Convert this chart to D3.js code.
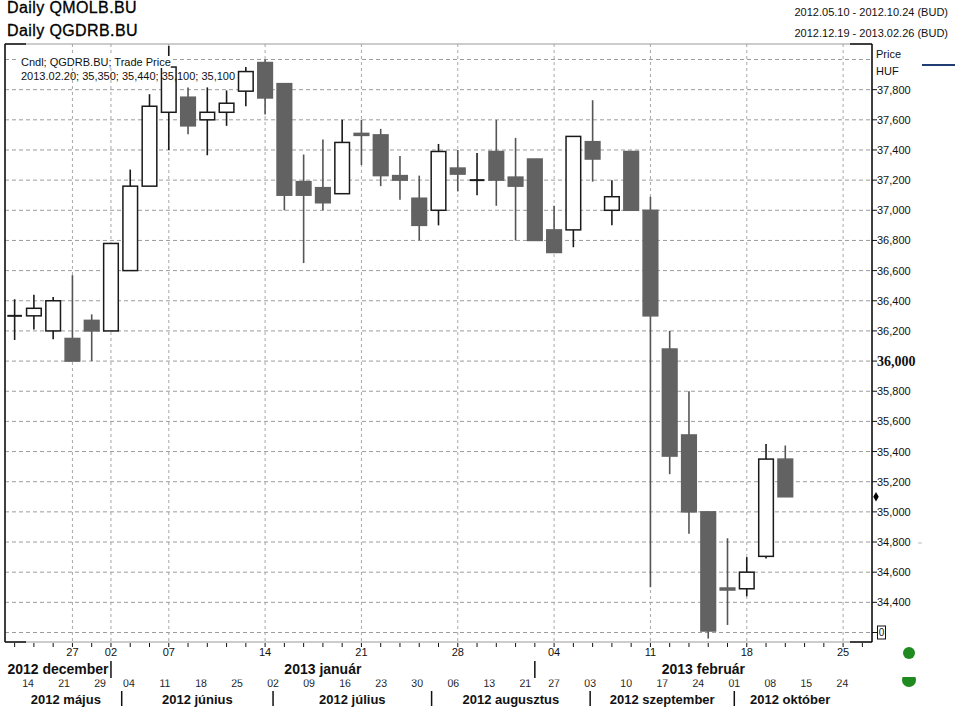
<!DOCTYPE html>
<html><head><meta charset="utf-8">
<script src="https://cdn.jsdelivr.net/npm/d3@7"></script>
<style>body{margin:0;background:#fff}svg{display:block}text{font-family:"Liberation Sans",Arial,sans-serif}</style>
</head><body>
<svg id="c" width="960" height="709"></svg>
<script>
// ---- data ----
const days = ["2012-12-19","2012-12-20","2012-12-21","2012-12-27","2012-12-28","2013-01-02","2013-01-03","2013-01-04","2013-01-07","2013-01-08","2013-01-09","2013-01-10","2013-01-11","2013-01-14","2013-01-15","2013-01-16","2013-01-17","2013-01-18","2013-01-21","2013-01-22","2013-01-23","2013-01-24","2013-01-25","2013-01-28","2013-01-29","2013-01-30","2013-01-31","2013-02-01","2013-02-04","2013-02-05","2013-02-06","2013-02-07","2013-02-08","2013-02-11","2013-02-12","2013-02-13","2013-02-14","2013-02-15","2013-02-18","2013-02-19","2013-02-20","2013-02-21","2013-02-22","2013-02-25","2013-02-26"];
const openV  = [36300,36300,36200,36150,36270,36200,36600,37160,37650,37750,37600,37650,37790,37980,37840,37190,37150,37110,37510,37500,37230,37080,37000,37280,37200,37390,37220,37340,36870,36870,37455,37000,37390,37000,36080,35510,35000,34495,34490,34705,35350];
const highV  = [36410,36440,36425,36570,36310,36780,37270,37770,38090,37815,37815,37795,37950,38000,37840,37370,37470,37600,37600,37540,37360,37230,37440,37400,37380,37600,37480,37340,37030,37490,37730,37200,37390,37090,36200,35800,35000,34825,34700,35450,35440];
const lowV   = [36140,36210,36145,36000,36000,36200,36600,37160,37400,37505,37365,37560,37690,37635,37000,36650,37000,37110,37300,37160,37070,36800,36900,37125,37100,37030,36800,36800,36720,36755,37190,36900,37000,34500,35250,34855,34160,34250,34440,34690,35100];
const closeV = [36300,36350,36400,36000,36200,36780,37160,37690,37950,37560,37650,37710,37920,37745,37100,37100,37050,37450,37500,37230,37200,36900,37390,37240,37200,37200,37160,36800,36720,37490,37340,37090,37000,36300,35370,35000,34210,34485,34600,35350,35100];

const yTicks = [34200,34400,34600,34800,35000,35200,35400,35600,35800,36000,36200,36400,36600,36800,37000,37200,37400,37600,37800,38000];
const yLabelled = [34400,34600,34800,35000,35200,35400,35600,35800,36000,36200,36400,36600,36800,37000,37200,37400,37600,37800];
const boldTick = 36000;
const lastPrice = 35100;

const topTickDays = ["2012-12-27","2013-01-02","2013-01-07","2013-01-14","2013-01-21","2013-01-28","2013-02-04","2013-02-11","2013-02-18","2013-02-25"];
const topMonthKeys = ["2012-12","2013-01","2013-02"];
const topMonthNames = ["2012 december","2013 január","2013 február"];

const lowerHolidays = ["2012-05-28","2012-08-20","2012-10-22","2012-10-23"];
const lowerTickDays = ["2012-05-14","2012-05-21","2012-05-29","2012-06-04","2012-06-11","2012-06-18","2012-06-25","2012-07-02","2012-07-09","2012-07-16","2012-07-23","2012-07-30","2012-08-06","2012-08-13","2012-08-21","2012-08-27","2012-09-03","2012-09-10","2012-09-17","2012-09-24","2012-10-01","2012-10-08","2012-10-15","2012-10-24"];
const lowerMonthKeys = ["2012-05","2012-06","2012-07","2012-08","2012-09","2012-10"];
const lowerMonthNames = ["2012 május","2012 június","2012 július","2012 augusztus","2012 szeptember","2012 október"];

const titles = ["Daily QMOLB.BU","Daily QGDRB.BU"];
const ranges = ["2012.05.10 - 2012.10.24 (BUD)","2012.12.19 - 2013.02.26 (BUD)"];
const legendLines = ["Cndl; QGDRB.BU; Trade Price","2013.02.20; 35,350; 35,440; 35,100; 35,100"];

// ---- layout ----
const svg = d3.select("#c");
const L = 5, R = 872, T = 44, B = 642;
const x = d3.scaleBand().domain(days).range([L, R]);
const bw = x.bandwidth();
const cx = d => x(d) + bw / 2;
const y = d3.scaleLinear().domain([34200, 38000]).range([632.5, 59.5]);
const fmtN = d3.format(",");

const fmtD = d3.utcFormat("%Y-%m-%d");
const lowerDays = d3.utcDays(new Date(Date.UTC(2012,4,10)), new Date(Date.UTC(2012,9,25)))
  .filter(d => d.getUTCDay() % 6 !== 0).map(fmtD).filter(s => !lowerHolidays.includes(s));
const x2 = d3.scaleBand().domain(lowerDays).range([10, 846]);
const cx2 = d => x2(d) + x2.bandwidth() / 2;

// titles
svg.selectAll(".title").data(titles).join("text")
  .attr("x", 7).attr("y", (d, i) => 13 + i * 22.5)
  .attr("font-size", 16).attr("letter-spacing", 0.4).attr("fill", "#000")
  .attr("stroke", "#000").attr("stroke-width", 0.3).text(d => d);
svg.selectAll(".range").data(ranges).join("text")
  .attr("x", 948).attr("y", (d, i) => 16 + i * 20.5).attr("text-anchor", "end")
  .attr("font-size", 11).attr("fill", "#111").text(d => d);

// gridlines
const grid = svg.append("g");
grid.selectAll(".hg").data(yTicks).join("line")
  .attr("x1", L).attr("x2", R).attr("y1", d => y(d)).attr("y2", d => y(d))
  .attr("stroke", "#9c9c9c").attr("stroke-dasharray", "4,3").attr("stroke-width", 1);
grid.selectAll(".vg").data(topTickDays).join("line")
  .attr("x1", d => cx(d)).attr("x2", d => cx(d)).attr("y1", T).attr("y2", B)
  .attr("stroke", "#a8a8a8").attr("stroke-dasharray", "3,3").attr("stroke-width", 1);

// candles
const candles = d3.range(openV.length).map(i => ({d: days[i], o: openV[i], h: highV[i], l: lowV[i], c: closeV[i]}));
const cg = svg.append("g");
const cw = bw * 0.76;
cg.selectAll(".wick").data(candles).join("line")
  .attr("x1", d => cx(d.d)).attr("x2", d => cx(d.d))
  .attr("y1", d => Math.max(y(d.h), T)).attr("y2", d => y(d.l))
  .attr("stroke", d => d.c >= d.o ? "#1a1a1a" : "#555").attr("stroke-width", 1.6);
cg.selectAll(".body").data(candles.filter(d => d.c !== d.o)).join("rect")
  .attr("x", d => cx(d.d) - cw / 2).attr("width", cw)
  .attr("y", d => y(Math.max(d.o, d.c)))
  .attr("height", d => Math.max(2, Math.abs(y(d.o) - y(d.c))))
  .attr("fill", d => d.c > d.o ? "#fff" : "#626262")
  .attr("stroke", d => d.c > d.o ? "#1a1a1a" : "#626262").attr("stroke-width", 1.5);
cg.selectAll(".doji").data(candles.filter(d => d.c === d.o)).join("line")
  .attr("x1", d => cx(d.d) - cw / 2).attr("x2", d => cx(d.d) + cw / 2)
  .attr("y1", d => y(d.o)).attr("y2", d => y(d.o))
  .attr("stroke", "#1a1a1a").attr("stroke-width", 2);

// legend text
const lg = svg.append("g");
const t1 = lg.append("text").attr("x", 21).attr("y", 66).attr("font-size", 11).attr("fill", "#111").text(legendLines[0]);
const w1 = t1.node().getComputedTextLength();
lg.insert("rect", "text").attr("x", 19).attr("y", 56).attr("width", w1 + 2).attr("height", 12).attr("fill", "#fff");
lg.append("text").attr("x", 21).attr("y", 80).attr("font-size", 11).attr("fill", "#111").text(legendLines[1]);

// frame
const fr = svg.append("g");
fr.append("rect").attr("x", L).attr("y", T).attr("width", R - L).attr("height", B - T)
  .attr("fill", "none").attr("stroke", "#9a9a9a").attr("stroke-width", 1);
fr.append("line").attr("x1", L).attr("x2", L).attr("y1", T).attr("y2", B).attr("stroke", "#111").attr("stroke-width", 1.5);
fr.append("line").attr("x1", R).attr("x2", R).attr("y1", T).attr("y2", B).attr("stroke", "#111").attr("stroke-width", 1.5);
[[L, L + 21, T], [L, L + 21, B], [R - 22, R, T], [R - 22, R, B]].forEach(s =>
  fr.append("line").attr("x1", s[0]).attr("x2", s[1]).attr("y1", s[2]).attr("y2", s[2]).attr("stroke", "#111").attr("stroke-width", 1.5));

// y axis ticks & labels
const ya = svg.append("g");
ya.selectAll(".yt").data(yTicks.filter(v => v < 38000)).join("line")
  .attr("x1", R).attr("x2", R + 5).attr("y1", d => y(d)).attr("y2", d => y(d)).attr("stroke", "#111");
ya.selectAll(".yl").data(yLabelled).join("text")
  .attr("x", R + 5).attr("y", d => y(d)).attr("dy", "0.36em")
  .attr("font-size", d => d === boldTick ? 14 : 11)
  .attr("font-weight", d => d === boldTick ? "bold" : "normal")
  .style("font-family", d => d === boldTick ? "'Liberation Serif','Times New Roman',serif" : null)
  .attr("fill", "#111").text(d => fmtN(d));
ya.append("rect").attr("x", 877.5).attr("y", y(34200) - 6.5).attr("width", 8).attr("height", 13)
  .attr("fill", "#fff").attr("stroke", "#111").attr("stroke-width", 1);
ya.append("text").attr("x", 881.5).attr("y", y(34200)).attr("dy", "0.36em").attr("text-anchor", "middle")
  .attr("font-size", 10).attr("fill", "#111").text("0");
ya.append("text").attr("x", 876).attr("y", 58).attr("font-size", 11).attr("fill", "#111").text("Price");
ya.append("text").attr("x", 876).attr("y", 75).attr("font-size", 11).attr("fill", "#111").text("HUF");
ya.append("path").attr("d", d3.symbol(d3.symbolDiamond, 26)).attr("fill", "#000")
  .attr("transform", `translate(${R + 4},${y(lastPrice)})`);
ya.append("line").attr("x1", 922).attr("x2", 955).attr("y1", 65).attr("y2", 65).attr("stroke", "#1f3d73").attr("stroke-width", 2);
ya.append("line").attr("x1", 918).attr("x2", 922).attr("y1", 543).attr("y2", 543).attr("stroke", "#bbb").attr("stroke-width", 1);

// x axis ticks
const xa = svg.append("g");
xa.selectAll(".xt").data(days).join("line")
  .attr("x1", d => cx(d)).attr("x2", d => cx(d)).attr("y1", B + 1).attr("y2", B + 5).attr("stroke", "#111");
xa.selectAll(".xl").data(topTickDays).join("text")
  .attr("x", d => cx(d)).attr("y", 656).attr("text-anchor", "middle")
  .attr("font-size", 11).attr("fill", "#111").text(d => d.slice(8, 10));

// lower axis (second series) labels
xa.selectAll(".x2l").data(lowerTickDays).join("text")
  .attr("x", d => cx2(d)).attr("y", 687).attr("text-anchor", "middle")
  .attr("font-size", 10.5).attr("fill", "#222").text(d => d.slice(8, 10));
xa.append("rect").attr("x", 0).attr("y", 672).attr("width", 870).attr("height", 7.5).attr("fill", "#fff");

// month segments: label centred between month boundaries
function segments(groups, cxf, lo, hi) {
  const b = groups.map((g, i) => i === 0 ? lo : cxf(g[0]));
  return groups.map((g, i) => ({start: b[i], end: i < groups.length - 1 ? b[i + 1] : hi, first: cxf(g[0]), i}));
}
const lowerGroups = lowerMonthKeys.map(k => lowerDays.filter(d => d.startsWith(k)));
const lowerSeg = segments(lowerGroups, cx2, 10, 846);
xa.selectAll(".x2m").data(lowerSeg).join("text")
  .attr("x", s => (s.start + s.end) / 2).attr("y", 704).attr("text-anchor", "middle")
  .attr("font-size", 13).attr("font-weight", "bold").attr("fill", "#111")
  .text(s => lowerMonthNames[s.i]);
xa.selectAll(".x2s").data(lowerSeg.slice(1)).join("line")
  .attr("x1", s => s.first).attr("x2", s => s.first).attr("y1", 691).attr("y2", 706)
  .attr("stroke", "#111").attr("stroke-width", 1.5);

const topGroups = topMonthKeys.map(k => days.filter(d => d.startsWith(k)));
const topSeg = segments(topGroups, cx, L, R);
xa.selectAll(".xm").data(topSeg).join("text")
  .attr("x", s => (s.start + s.end) / 2).attr("y", 674).attr("text-anchor", "middle")
  .attr("font-size", 14).attr("font-weight", "bold").attr("fill", "#111")
  .text(s => topMonthNames[s.i]);
xa.selectAll(".xs").data(topSeg.slice(1)).join("line")
  .attr("x1", s => s.first).attr("x2", s => s.first).attr("y1", 661).attr("y2", 678)
  .attr("stroke", "#111").attr("stroke-width", 1.5);

// green status dots
svg.append("circle").attr("cx", 909).attr("cy", 653).attr("r", 6).attr("fill", "#1f8a1f");
svg.append("clipPath").attr("id", "hc").append("rect").attr("x", 900).attr("y", 677).attr("width", 20).attr("height", 12);
svg.append("circle").attr("cx", 909).attr("cy", 680).attr("r", 7).attr("fill", "#1f8a1f").attr("clip-path", "url(#hc)");
</script>
</body></html>
